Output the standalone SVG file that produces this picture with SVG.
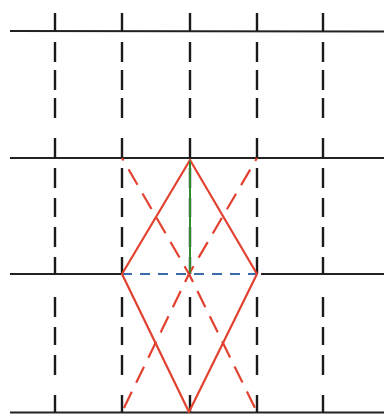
<svg xmlns="http://www.w3.org/2000/svg" width="384" height="414" viewBox="0 0 384 414">
  <style>
    .h { stroke: #222; stroke-width: 2; fill: none; }
    .v { stroke: #1a1a1a; stroke-width: 2.4; fill: none; }
    .red { stroke: #e2412f; stroke-width: 2.2; fill: none; stroke-linejoin: round; }
    .redd { stroke: #e2412f; stroke-width: 2.2; fill: none; stroke-dasharray: 18 10; stroke-dashoffset: 9; }
    .blue { stroke: #3a6aa8; stroke-width: 2.2; fill: none; stroke-dasharray: 10 8; }
    .green { stroke: #2f8a2f; stroke-width: 2; fill: none; }
  </style>
  <defs>
    <path id="vcol" class="v" d="M0 13V31 M0 42V62 M0 70V90 M0 98V118 M0 138V158 M0 168V188 M0 198V217 M0 227V247 M0 257V274 M0 297V317 M0 327V345 M0 355V375 M0 395V412"/>
  </defs>
  <g id="grid">
    <g id="horizontals">
      <line class="h" x1="10" y1="31" x2="384" y2="31.5"/>
      <line class="h" x1="10" y1="158" x2="384" y2="158"/>
      <line class="h" x1="10" y1="274" x2="122" y2="274"/>
      <line class="h" x1="261" y1="274" x2="384" y2="274"/>
      <line class="h" x1="10" y1="412.5" x2="384" y2="412.5"/>
    </g>
    <g id="verticals">
      <use href="#vcol" x="55"/>
      <use href="#vcol" x="122"/>
      <use href="#vcol" x="190"/>
      <use href="#vcol" x="257"/>
      <use href="#vcol" x="323"/>
    </g>
  </g>
  <g id="connectors">
    <path id="diag1-top" class="redd" d="M189 274L122 158"/>
    <path id="diag1-bottom" class="redd" d="M189 274L257 412"/>
    <path id="diag2-top" class="redd" d="M189 274L257 158"/>
    <path id="diag2-bottom" class="redd" d="M189 274L122 412"/>
    <line id="diagonal-horizontal" class="blue" x1="122" y1="274" x2="257" y2="274"/>
    <path id="rhombus" class="red" d="M190 160L122 274L189 412L257 274Z"/>
    <line id="height" class="green" x1="190" y1="161" x2="190" y2="273"/>
  </g>
</svg>
